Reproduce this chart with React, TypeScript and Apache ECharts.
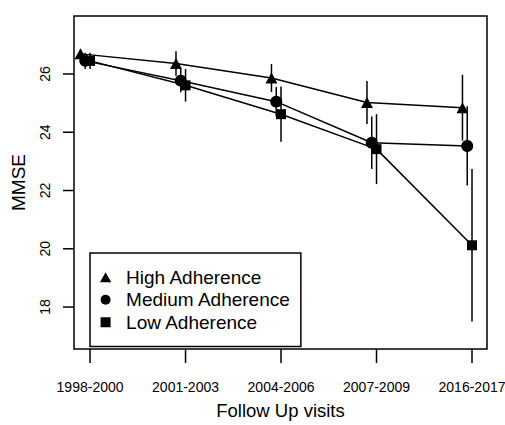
import React, { useEffect, useRef } from "react";
import * as echarts from "echarts";

const categories = ["1998-2000", "2001-2003", "2004-2006", "2007-2009", "2016-2017"];
const yTicks = [18, 20, 22, 24, 26];

const highMean = [26.69, 26.36, 25.86, 25.02, 24.84];
const highErr = [0.15, 0.42, 0.48, 0.74, 1.13];
const mediumMean = [26.45, 25.77, 25.05, 23.64, 23.53];
const mediumErr = [0.28, 0.4, 0.5, 0.9, 1.36];
const lowMean = [26.45, 25.61, 24.62, 23.42, 20.12];
const lowErr = [0.28, 0.56, 0.95, 1.2, 2.62];

const FONT = "Liberation Sans, Arial, Helvetica, sans-serif";
const X_MIN = -0.168;
const X_MAX = 4.157;
const Y_MIN = 16.56;
const Y_MAX = 27.99;

const TRI_ICON = "path://M0,10 L5.6,0 L11.2,10 Z";
const CIRCLE_ICON = "path://M5,0 A5,5 0 1 1 5,10 A5,5 0 1 1 5,0 Z";
const SQUARE_ICON = "path://M0,0 L10,0 L10,10 L0,10 Z";

const groups = [
  { name: "High Adherence", mean: highMean, err: highErr, dodge: -0.1, symbol: "triangle", size: [12, 11], icon: TRI_ICON },
  { name: "Medium Adherence", mean: mediumMean, err: mediumErr, dodge: -0.05, symbol: "circle", size: 12, icon: CIRCLE_ICON },
  { name: "Low Adherence", mean: lowMean, err: lowErr, dodge: 0, symbol: "rect", size: 10, icon: SQUARE_ICON },
];

export default function App() {
  const ref = useRef<HTMLDivElement>(null);
  useEffect(() => {
    if (!ref.current) return;
    const chart = echarts.init(ref.current, null, { renderer: "svg" });

    const errSeries = groups.map((g) => ({
      type: "custom",
      name: g.name + " err",
      silent: true,
      data: g.mean.map((m, i) => [i + g.dodge, m - g.err[i], m + g.err[i]]),
      renderItem: (params: any, api: any) => {
        const x = api.value(0);
        const a = api.coord([x, api.value(1)]);
        const b = api.coord([x, api.value(2)]);
        return {
          type: "line",
          shape: { x1: a[0], y1: a[1], x2: b[0], y2: b[1] },
          style: { stroke: "#000", lineWidth: 1.5 },
        };
      },
      z: 1,
    }));

    const lineSeries = groups.map((g) => ({
      type: "line",
      name: g.name,
      data: g.mean.map((m, i) => [i + g.dodge, m]),
      symbol: g.symbol,
      symbolSize: g.size,
      showAllSymbol: true,
      itemStyle: { color: "#000" },
      lineStyle: { color: "#000", width: 1.5 },
      z: 3,
    }));

    const xTickSeries = {
      type: "custom",
      silent: true,
      data: categories.map((c, i) => [i, Y_MIN]),
      renderItem: (params: any, api: any) => {
        const i = api.value(0);
        const p = api.coord([i, Y_MIN]);
        return {
          type: "group",
          children: [
            {
              type: "line",
              shape: { x1: p[0], y1: p[1], x2: p[0], y2: p[1] + 14 },
              style: { stroke: "#000", lineWidth: 1.5 },
            },
            {
              type: "text",
              x: p[0],
              y: p[1] + 38,
              style: {
                text: categories[i],
                x: 0,
                y: 0,
                align: "center",
                verticalAlign: "middle",
                fontSize: 14,
                fontFamily: FONT,
                fill: "#000",
              },
            },
          ],
        };
      },
    };

    const yTickSeries = {
      type: "custom",
      silent: true,
      data: yTicks.map((v) => [X_MIN, v]),
      renderItem: (params: any, api: any) => {
        const v = api.value(1);
        const p = api.coord([X_MIN, v]);
        return {
          type: "group",
          children: [
            {
              type: "line",
              shape: { x1: p[0], y1: p[1], x2: p[0] - 11, y2: p[1] },
              style: { stroke: "#000", lineWidth: 1.5 },
            },
            {
              type: "text",
              x: p[0] - 29,
              y: p[1],
              rotation: Math.PI / 2,
              style: {
                text: String(v),
                x: 0,
                y: 0,
                align: "center",
                verticalAlign: "middle",
                fontSize: 14,
                fontFamily: FONT,
                fill: "#000",
              },
            },
          ],
        };
      },
    };

    chart.setOption({
      animation: false,
      backgroundColor: "#fff",
      textStyle: { fontFamily: FONT, color: "#000" },
      grid: {
        left: 74,
        right: 18,
        top: 16,
        bottom: 70,
        show: true,
        borderColor: "#000",
        borderWidth: 1.5,
        backgroundColor: "transparent",
      },
      xAxis: {
        type: "value",
        min: X_MIN,
        max: X_MAX,
        axisLine: { show: false },
        axisTick: { show: false },
        axisLabel: { show: false },
        splitLine: { show: false },
        name: "Follow Up visits",
        nameLocation: "middle",
        nameGap: 52,
        nameTextStyle: { fontSize: 18.5, fontFamily: FONT, color: "#000", verticalAlign: "top" },
      },
      yAxis: {
        type: "value",
        min: Y_MIN,
        max: Y_MAX,
        axisLine: { show: false },
        axisTick: { show: false },
        axisLabel: { show: false },
        splitLine: { show: false },
        name: "MMSE",
        nameLocation: "middle",
        nameGap: 46,
        nameRotate: 90,
        nameTextStyle: { fontSize: 19, fontFamily: FONT, color: "#000" },
      },
      legend: {
        orient: "vertical",
        left: 90,
        top: 253,
        itemWidth: 31,
        itemHeight: 10,
        itemGap: 0,
        symbolKeepAspect: true,
        padding: [13, 10, 13, 10],
        borderColor: "#000",
        borderWidth: 1.5,
        selectedMode: false,
        itemStyle: { borderWidth: 0 },
        textStyle: { fontSize: 19, lineHeight: 22.5, fontFamily: FONT, color: "#000" },
        data: groups.map((g) => ({ name: g.name, icon: g.icon, itemStyle: { color: "#000" } })),
      },
      series: [...errSeries, ...lineSeries, xTickSeries, yTickSeries],
    });

    return () => chart.dispose();
  }, []);

  return (
    <div
      ref={ref}
      style={{ position: "fixed", left: 0, top: 0, width: 505, height: 425, background: "#fff" }}
    />
  );
}
